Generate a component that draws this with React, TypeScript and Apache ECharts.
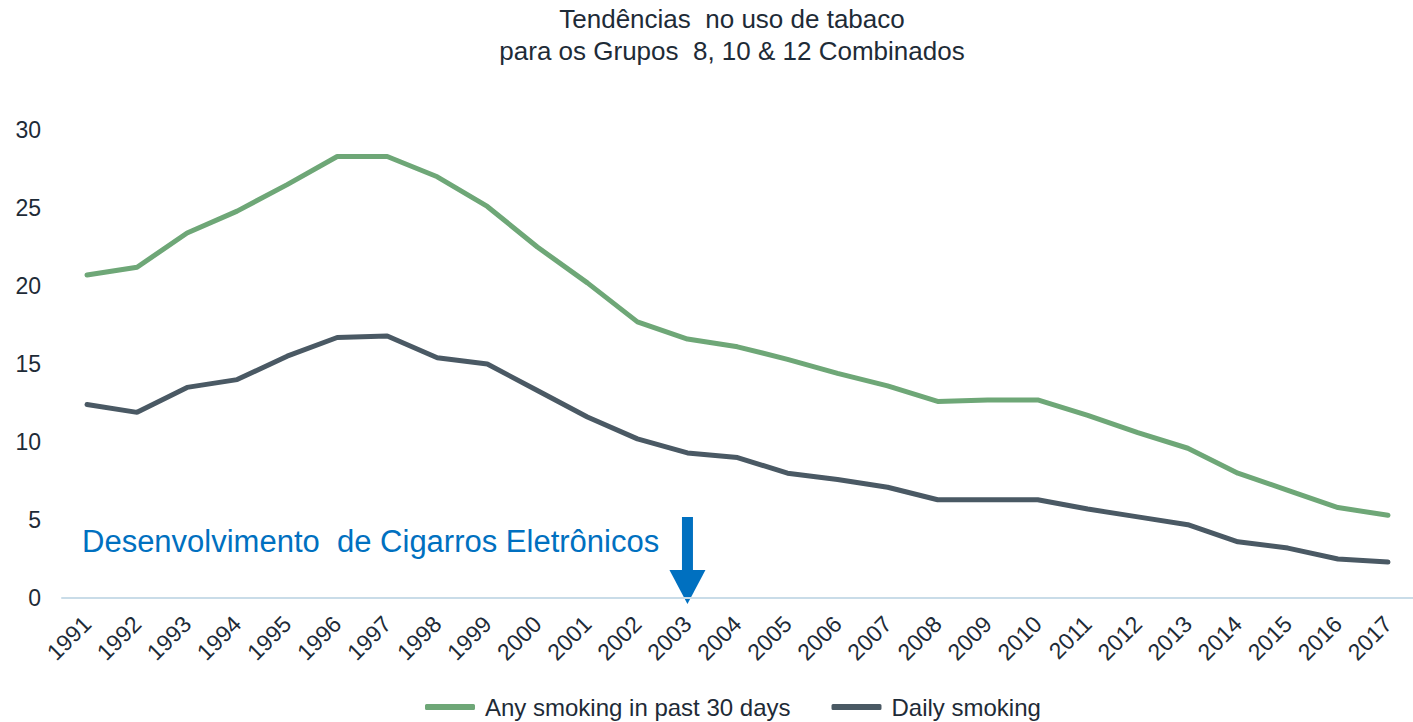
import React, { useEffect, useRef } from "react";
import * as echarts from "echarts";

const years = [
  "1991", "1992", "1993", "1994", "1995", "1996", "1997", "1998", "1999", "2000",
  "2001", "2002", "2003", "2004", "2005", "2006", "2007", "2008", "2009", "2010",
  "2011", "2012", "2013", "2014", "2015", "2016", "2017",
];
const anySmoking = [
  20.7, 21.2, 23.4, 24.8, 26.5, 28.3, 28.3, 27.0, 25.1, 22.5,
  20.2, 17.7, 16.6, 16.1, 15.3, 14.4, 13.6, 12.6, 12.7, 12.7,
  11.7, 10.6, 9.6, 8.0, 6.9, 5.8, 5.3,
];
const dailySmoking = [
  12.4, 11.9, 13.5, 14.0, 15.5, 16.7, 16.8, 15.4, 15.0, 13.3,
  11.6, 10.2, 9.3, 9.0, 8.0, 7.6, 7.1, 6.3, 6.3, 6.3,
  5.7, 5.2, 4.7, 3.6, 3.2, 2.5, 2.3,
];
const seriesNames = ["Any smoking in past 30 days", "Daily smoking"];
const titleLines = ["Tendências  no uso de tabaco", "para os Grupos  8, 10 & 12 Combinados"];
const annotationText = "Desenvolvimento  de Cigarros Eletrônicos";
const arrowYear = "2003";

const FONT = "'Liberation Sans', Arial, sans-serif";
const TEXT = "#1e2b37";
const GREEN = "#6ea777";
const DARK = "#4a5964";
const BLUE = "#0070c0";

export default function App() {
  const ref = useRef<HTMLDivElement>(null);
  useEffect(() => {
    if (!ref.current) return;
    const chart = echarts.init(ref.current, undefined, { renderer: "svg" });
    chart.setOption({
      animation: false,
      backgroundColor: "#ffffff",
      textStyle: { fontFamily: FONT },
      title: {
        text: titleLines.join("\n"),
        left: 727,
        top: -2,
        textAlign: "center",
        textStyle: { fontFamily: FONT, fontSize: 26, fontWeight: "normal", color: TEXT, lineHeight: 32 },
      },
      legend: {
        bottom: -2,
        left: 420,
        itemWidth: 50,
        itemHeight: 6,
        itemGap: 41,
        icon: "roundRect",
        textStyle: { fontFamily: FONT, fontSize: 24, color: TEXT, padding: [0, 0, 0, 5] },
        data: seriesNames,
      },
      grid: { left: 62, right: -16, top: 130, bottom: 124, containLabel: false },
      xAxis: {
        type: "category",
        data: years,
        boundaryGap: true,
        axisLine: { show: true, lineStyle: { color: "#c9dce8", width: 2 } },
        axisTick: { show: false },
        axisLabel: {
          rotate: 45,
          fontSize: 23,
          color: TEXT,
          fontFamily: FONT,
          margin: 22,
          interval: 0,
          align: "right",
          verticalAlign: "middle",
        },
      },
      yAxis: {
        type: "value",
        min: 0,
        max: 30,
        interval: 5,
        splitLine: { show: false },
        axisLine: { show: false },
        axisTick: { show: false },
        axisLabel: { fontSize: 23, color: TEXT, fontFamily: FONT, margin: 21 },
      },
      series: [
        {
          name: seriesNames[0],
          type: "line",
          data: anySmoking,
          symbol: "none",
          lineStyle: { color: GREEN, width: 5, cap: "round" },
          itemStyle: { color: GREEN },
        },
        {
          name: seriesNames[1],
          type: "line",
          data: dailySmoking,
          symbol: "none",
          lineStyle: { color: DARK, width: 5, cap: "round" },
          itemStyle: { color: DARK },
        },
      ],
    });
    const p = chart.convertToPixel({ xAxisIndex: 0, yAxisIndex: 0 }, [arrowYear, 0]) as number[];
    const ax = p[0];
    const ay = p[1];
    chart.setOption({
      graphic: [
        {
          type: "text",
          x: 82,
          y: 541,
          style: { text: annotationText, fontFamily: FONT, fontSize: 31, fill: BLUE, verticalAlign: "middle" },
        },
        {
          type: "rect",
          shape: { x: ax - 5.5, y: ay - 81, width: 11, height: 54 },
          style: { fill: BLUE },
        },
        {
          type: "polygon",
          shape: { points: [[ax - 18, ay - 28], [ax + 18, ay - 28], [ax, ay + 6]] },
          style: { fill: BLUE },
        },
      ],
    });
    return () => chart.dispose();
  }, []);
  return <div ref={ref} style={{ position: "fixed", left: 0, top: 0, width: 1413, height: 722 }} />;
}
